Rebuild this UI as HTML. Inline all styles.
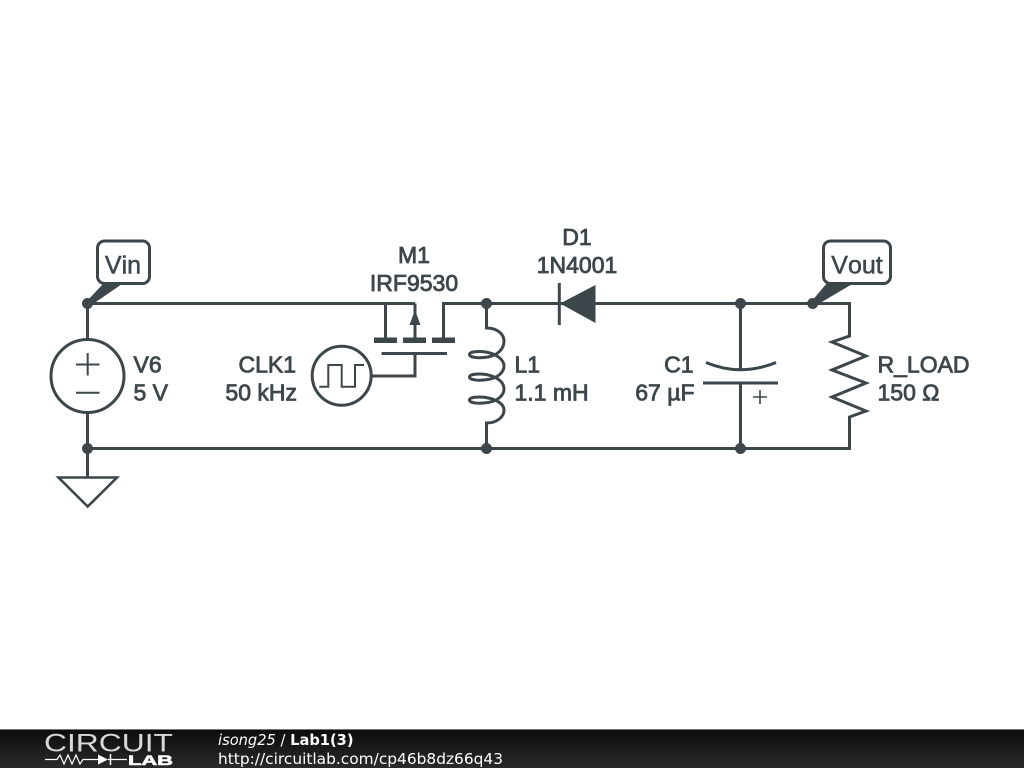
<!DOCTYPE html>
<html><head><meta charset="utf-8"><style>
html,body{margin:0;padding:0;background:#fff;width:1024px;height:768px;overflow:hidden}
svg{display:block}
.w{fill:none;stroke:#3d464b;stroke-width:3}
.t{fill:none;stroke:#3d464b;stroke-width:2}
.f{fill:#3d464b;stroke:none}
.l{font-family:"Liberation Sans",sans-serif;font-size:23px;font-kerning:none;fill:#3d464b;stroke:#3d464b;stroke-width:.8}
.m{font-family:"DejaVu Sans",sans-serif;fill:#fff}
</style></head><body>
<svg width="1024" height="768" viewBox="0 0 1024 768" xmlns="http://www.w3.org/2000/svg">
<defs><linearGradient id="g" x1="0" y1="0" x2="0" y2="1"><stop offset="0" stop-color="#0b0b0b"/><stop offset=".55" stop-color="#1c1c1c"/><stop offset="1" stop-color="#2a2a2a"/></linearGradient></defs>
<rect width="1024" height="768" fill="#fff"/>
<path class="w" d="M87.5 303.5H415M443.5 340V303.5H595M595 303.5H849.5V336L832 342L866 356L832 370L866 383L832 397L866 411L849.5 417V448.5H87.5"/>
<path class="w" d="M87.5 303.5V340M87.5 412V477M385.5 303.5V340M415 303.5V340M415 353.5V376H371M381.5 353.5H447M740.5 303.5V370M740.5 383V448.5"/>
<circle class="w" cx="87.5" cy="376" r="36.5"/>
<path class="t" d="M76 364.5H99.5M87.7 353V375.5M76 392.7H99.5"/>
<path class="w" d="M58.5 477.5H117L87.7 506.5Z" style="stroke-width:2.6"/>
<circle class="w" cx="341.7" cy="375.7" r="29.5"/>
<path class="t" d="M319.3 386.7H328.3V365H341.7V386.7H355V365H364"/>
<rect class="f" x="374" y="337.5" width="23" height="5.5"/>
<rect class="f" x="403" y="337.5" width="23" height="5.5"/>
<rect class="f" x="432" y="337.5" width="23" height="5.5"/>
<path class="f" d="M415 310L420.5 325H409.5Z"/>
<path class="w" d="M486.5 303.5V328C497 328 504 334 504 341C504 349 498 355 488 357C478 358.5 469.5 357.5 469.5 354.5C469.5 351.5 478 351 486 352C497 354 504 360 504 366C504 372 498 378 488 379.5C478 381 469.5 380 469.5 377C469.5 374 478 373.5 486 374.5C497 376.5 504 382 504 389C504 395 498 401 488 402.5C478 404 469.5 403 469.5 400C469.5 397 478 396.5 486 397.5C497 399.5 504 404 504 410C504 417 497 423 486.5 423V448.5"/>
<path class="f" d="M560 303.5L595.5 285V323Z"/>
<path class="w" d="M559.3 283V325"/>
<path class="w" d="M706 362.5Q740.5 377 776 362.5M703 383H778"/>
<path class="w" d="M753 397H767M760 390V404" style="stroke-width:1.6"/>
<circle class="f" cx="87.5" cy="303.5" r="5.5"/>
<circle class="f" cx="87.5" cy="448.5" r="5.5"/>
<circle class="f" cx="486.5" cy="303.5" r="5.5"/>
<circle class="f" cx="486.5" cy="448.5" r="5.5"/>
<circle class="f" cx="740.5" cy="303.5" r="5.5"/>
<circle class="f" cx="740.5" cy="448.5" r="5.5"/>
<circle class="f" cx="812.7" cy="303.5" r="5.5"/>
<path class="f" d="M86 302L104 283H123.5L90 306Z"/>
<path class="f" d="M811 302L827 283H854L815 306Z"/>
<rect x="97.5" y="241" width="52" height="42.5" rx="7" fill="#fff" stroke="#3d464b" stroke-width="3"/>
<rect x="823.5" y="241" width="67" height="42.5" rx="7" fill="#fff" stroke="#3d464b" stroke-width="3"/>
<text class="l" x="123" y="273.5" text-anchor="middle" style="font-size:25px;stroke-width:.5">Vin</text>
<text class="l" x="857" y="273.5" text-anchor="middle" style="font-size:25px;stroke-width:.5">Vout</text>
<text class="l" x="133.5" y="372.7">V6</text>
<text class="l" x="133.5" y="400.5">5 V</text>
<text class="l" x="296" y="372.7" text-anchor="end">CLK1</text>
<text class="l" x="297" y="400.5" text-anchor="end">50 kHz</text>
<text class="l" x="414" y="263" text-anchor="middle">M1</text>
<text class="l" x="414" y="291" text-anchor="middle">IRF9530</text>
<text class="l" x="577" y="245" text-anchor="middle">D1</text>
<text class="l" x="577" y="273" text-anchor="middle">1N4001</text>
<text class="l" x="514.5" y="372.7">L1</text>
<text class="l" x="514.5" y="400.5">1.1 mH</text>
<text class="l" x="693.5" y="372.7" text-anchor="end">C1</text>
<text class="l" x="694.5" y="400.5" text-anchor="end">67 µF</text>
<text class="l" x="877.5" y="372.7">R_LOAD</text>
<text class="l" x="877.5" y="400.5">150 Ω</text>
<rect y="729" width="1024" height="39" fill="url(#g)"/>
<rect y="729" width="1024" height="1" fill="#777"/>
<text x="44" y="751.5" font-family="Liberation Sans,sans-serif" font-size="25" fill="#d8d8d8" textLength="129" lengthAdjust="spacingAndGlyphs">CIRCUIT</text>
<text x="128" y="765" font-family="Liberation Sans,sans-serif" font-size="14" font-weight="bold" fill="#fff" stroke="#fff" stroke-width=".6" textLength="45" lengthAdjust="spacingAndGlyphs">LAB</text>
<path fill="none" stroke="#fff" stroke-width="1.2" d="M45 759.5H57L60 755L64 764L68 755L72 764L76 755L80 764L83 759.5H98M108 759.5H127"/>
<path fill="#fff" d="M98 754.5L108 759.5L98 764.5Z"/>
<path stroke="#fff" stroke-width="1.5" d="M110.5 754V765"/>
<text class="m" x="218" y="745" font-size="14.65"><tspan font-style="italic">isong25</tspan> / <tspan font-weight="bold">Lab1(3)</tspan></text>
<text class="m" x="218" y="764" font-size="15.4">http://circuitlab.com/cp46b8dz66q43</text>
</svg>
</body></html>
